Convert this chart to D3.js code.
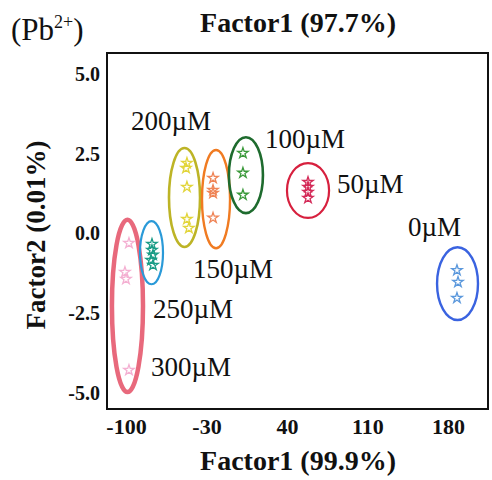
<!DOCTYPE html>
<html>
<head>
<meta charset="utf-8">
<script src="https://cdn.jsdelivr.net/npm/d3@7"></script>
<style>
  body { margin: 0; background: #fff; }
  text { font-family: "Liberation Serif", "Times New Roman", serif; }
</style>
</head>
<body>
<div id="chart"></div>
<script>
// Pb2+ factor plot

var groups = ["300µM", "250µM", "200µM", "150µM", "100µM", "50µM", "0µM"];

// sample points (Factor1, Factor2) per group
var pts300 = [[-97.4, -0.30], [-100.9, -1.21], [-100.0, -1.43], [-97.4, -4.28]];
var pts250 = [[-77.4, -0.33], [-77.4, -0.52], [-76.5, -0.67], [-78.2, -0.83], [-76.5, -0.99]];
var pts200 = [[-47.0, 2.21], [-47.8, 2.05], [-47.0, 1.46], [-47.0, 0.45], [-45.3, 0.17]];
var pts150 = [[-24.3, 1.74], [-24.3, 1.36], [-24.3, 1.27], [-24.3, 0.49]];
var pts100 = [[1.7, 2.52], [1.7, 1.90], [1.7, 1.21]];
var pts50 = [[58.3, 1.61], [58.3, 1.46], [58.3, 1.30], [58.3, 1.11]];
var pts0 = [[187.8, -1.15], [188.7, -1.52], [187.8, -2.02]];
var points = [pts300, pts250, pts200, pts150, pts100, pts50, pts0];

// confidence ellipses: centre x, centre y, half-width, half-height (data units)
var ellCx = [-98.7, -77.8, -49.1, -21.7, 4.3, 58.3, 188.3];
var ellCy = [-2.27, -0.60, 1.13, 1.08, 1.83, 1.35, -1.57];
var ellRx = [13.5, 10.0, 13.5, 12.2, 14.8, 18.3, 17.8];
var ellRy = [2.70, 0.99, 1.55, 1.54, 1.19, 0.86, 1.14];

// label anchors (data units)
var labX = [-78.3, -76.5, -95.7, -41.7, 20.9, 83.5, 145.2];
var labY = [-4.47, -2.65, 3.24, -1.39, 2.68, 1.27, -0.08];

var xTicks = [-100, -30, 40, 110, 180];
var yTicks = [5.0, 2.5, 0.0, -2.5, -5.0];

var ellColors = ["#e8697c", "#2a9ad8", "#bdb426", "#f07b22", "#1e6b2e", "#d7203e", "#3a63e0"];
var starColors = ["#f4b0d2", "#1a9c86", "#e2d53a", "#ef8456", "#3a993a", "#d42a58", "#5b98dc"];
var ellWidths = [4.5, 2.2, 2.6, 2.4, 2.6, 2.2, 2.4];

var width = 492;
var height = 480;
var margin = {left: 107, top: 53, right: 4, bottom: 71};
var plotW = width - margin.left - margin.right;
var plotH = height - margin.top - margin.bottom;

var svg = d3.select("#chart")
    .append("svg")
    .attr("width", width)
    .attr("height", height);

var xScale = d3.scaleLinear().domain([-116.5, 214.8]).range([0, plotW]);
var yScale = d3.scaleLinear().domain([-5.50, 5.66]).range([plotH, 0]);

var g = svg.append("g")
    .attr("transform", "translate(" + margin.left + "," + margin.top + ")");

// plain hyphen instead of unicode minus
function hyph(f) {
    return function(d) { return f(d).replace("\u2212", "-"); };
}

// axes, labels only
var xAxis = d3.axisBottom(xScale).tickValues(xTicks).tickSize(0).tickPadding(9)
    .tickFormat(hyph(d3.format("d")));
g.append("g")
    .attr("transform", "translate(0," + plotH + ")")
    .call(xAxis)
    .call(function(s) { s.select(".domain").remove(); })
    .selectAll("text")
    .attr("fill", "#111")
    .style("font-size", "22px")
    .style("font-weight", "bold")
    .style("font-family", "'Liberation Serif', serif");

var yAxis = d3.axisLeft(yScale).tickValues(yTicks).tickSize(0).tickPadding(7)
    .tickFormat(hyph(d3.format(".1f")));
g.append("g")
    .call(yAxis)
    .call(function(s) { s.select(".domain").remove(); })
    .selectAll("text")
    .attr("fill", "#111")
    .style("font-size", "20px")
    .style("font-weight", "bold")
    .style("font-family", "'Liberation Serif', serif");

// ellipses
g.selectAll("ellipse.grp")
    .data(groups)
    .enter()
    .append("ellipse")
    .attr("class", "grp")
    .attr("cx", function(d, i) { return xScale(ellCx[i]); })
    .attr("cy", function(d, i) { return yScale(ellCy[i]); })
    .attr("rx", function(d, i) { return xScale(ellCx[i] + ellRx[i]) - xScale(ellCx[i]); })
    .attr("ry", function(d, i) { return yScale(ellCy[i]) - yScale(ellCy[i] + ellRy[i]); })
    .attr("fill", "none")
    .attr("stroke", function(d, i) { return ellColors[i]; })
    .attr("stroke-width", function(d, i) { return ellWidths[i]; });

// star markers
var star = d3.symbol().type(d3.symbolStar).size(34);
points.forEach(function(pts, i) {
    g.selectAll(null)
        .data(pts)
        .enter()
        .append("path")
        .attr("d", star)
        .attr("transform", function(d) {
            return "translate(" + xScale(d[0]) + "," + yScale(d[1]) + ")";
        })
        .attr("fill", "none")
        .attr("stroke", starColors[i])
        .attr("stroke-width", 1.3);
});

// group labels
g.selectAll("text.lab")
    .data(groups)
    .enter()
    .append("text")
    .attr("class", "lab")
    .attr("x", function(d, i) { return xScale(labX[i]); })
    .attr("y", function(d, i) { return yScale(labY[i]); })
    .attr("fill", "#111")
    .style("font-size", "27px")
    .text(function(d) { return d; });

// frame
g.append("rect")
    .attr("width", plotW)
    .attr("height", plotH)
    .attr("fill", "none")
    .attr("stroke", "#111")
    .attr("stroke-width", 2);

// titles
svg.append("text")
    .attr("x", 298)
    .attr("y", 32)
    .attr("text-anchor", "middle")
    .attr("fill", "#111")
    .style("font-size", "28px")
    .style("font-weight", "bold")
    .text("Factor1 (97.7%)");

svg.append("text")
    .attr("x", 298)
    .attr("y", 470)
    .attr("text-anchor", "middle")
    .attr("fill", "#111")
    .style("font-size", "28px")
    .style("font-weight", "bold")
    .text("Factor1 (99.9%)");

svg.append("text")
    .attr("transform", "translate(45,235)rotate(-90)")
    .attr("text-anchor", "middle")
    .attr("fill", "#111")
    .style("font-size", "27px")
    .style("font-weight", "bold")
    .text("Factor2 (0.01%)");

var pb = svg.append("text")
    .attr("x", 11)
    .attr("y", 40)
    .attr("fill", "#111")
    .style("font-size", "31px");
pb.append("tspan").text("(Pb");
pb.append("tspan").attr("dy", -12).style("font-size", "18px").text("2+");
pb.append("tspan").attr("dy", 12).text(")");
</script>
</body>
</html>
